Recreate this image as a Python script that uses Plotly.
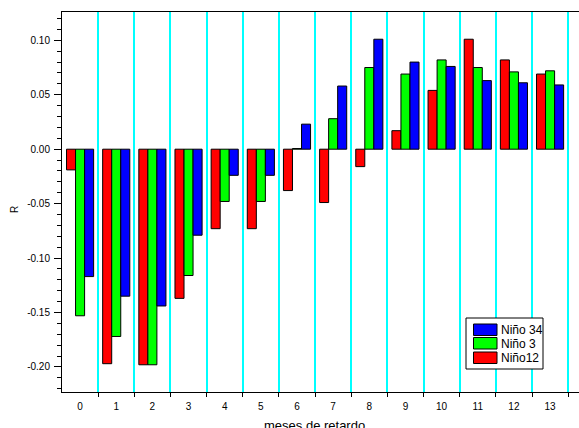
import plotly.graph_objects as go

lags = list(range(14))
lag_labels = [str(v) for v in lags]
nino12 = [-0.019, -0.197, -0.198, -0.137, -0.073, -0.073, -0.038, -0.049, -0.016, 0.017, 0.054, 0.101, 0.082, 0.069]
nino3 = [-0.153, -0.172, -0.198, -0.116, -0.048, -0.048, 0.0006, 0.028, 0.075, 0.069, 0.082, 0.075, 0.071, 0.072]
nino34 = [-0.117, -0.135, -0.144, -0.079, -0.024, -0.024, 0.023, 0.058, 0.101, 0.080, 0.076, 0.063, 0.061, 0.059]
series_names = ["Niño12", "Niño 3", "Niño 34"]
series_colors = ["#FF0000", "#00FF00", "#0000FF"]
ytick_vals = [-0.20, -0.15, -0.10, -0.05, 0.00, 0.05, 0.10]
ytick_text = ["-0.20", "-0.15", "-0.10", "-0.05", "0.00", "0.05", "0.10"]
sep_vals = [v + 0.5 for v in lags]

FONT = "Liberation Sans, Arial, sans-serif"
W, H = 579, 428
ML, MT, MB, MR = 62, 12, 36, 0
PW, PH = W - ML - MR, H - MT - MB


def px(x):
    return (x - ML) / PW


def py(y):
    return (H - MB - y) / PH


fig = go.Figure()
for name, vals, col in zip(series_names, [nino12, nino3, nino34], series_colors):
    fig.add_trace(go.Bar(x=lags, y=vals, name=name, showlegend=False,
                         marker=dict(color=col, line=dict(color="black", width=1))))

# custom legend (box, swatches, labels), top entry = last series
shapes = [dict(type="rect", xref="paper", yref="paper", x0=px(466), x1=px(543),
               y0=py(369), y1=py(318), line=dict(color="black", width=1),
               fillcolor="white", layer="above")]
annotations = []
row_tops = [324, 337.5, 352]
for i, (name, col) in enumerate(zip(series_names[::-1], series_colors[::-1])):
    t = row_tops[i]
    shapes.append(dict(type="rect", xref="paper", yref="paper", x0=px(473.5), x1=px(497),
                       y0=py(t + 11.5), y1=py(t), line=dict(color="black", width=1),
                       fillcolor=col, layer="above"))
    annotations.append(dict(text=name, xref="paper", yref="paper", x=px(499), y=py(t + 6),
                            xanchor="left", yanchor="middle", showarrow=False,
                            font=dict(size=12, color="black")))

annotations += [
    dict(text="R", xref="paper", yref="paper", x=px(14), y=py(210), textangle=-90,
         showarrow=False, xanchor="center", yanchor="middle", font=dict(size=10)),
    dict(text="meses de retardo", xref="paper", yref="paper", x=px(314), y=py(425),
         showarrow=False, xanchor="center", yanchor="middle", font=dict(size=13)),
]

fig.update_layout(
    template="none",
    width=W, height=H,
    margin=dict(l=ML, r=MR, t=MT, b=MB, pad=0),
    paper_bgcolor="white", plot_bgcolor="white",
    barmode="group", bargap=0.25, bargroupgap=0,
    font=dict(family=FONT, size=10, color="black"),
    showlegend=False,
    xaxis=dict(range=[-0.5, 13.8], tickmode="array", tickvals=lags, ticktext=lag_labels,
               ticks="", showgrid=False, zeroline=False, automargin=False,
               showline=True, linecolor="black", linewidth=1, mirror=True,
               ticklabelstandoff=5,
               minor=dict(tickmode="array", tickvals=sep_vals, ticks="outside", ticklen=4,
                          tickcolor="black", showgrid=True, gridcolor="#00FFFF", gridwidth=1.5),
               tickfont=dict(size=10)),
    yaxis=dict(range=[-0.223, 0.126], tickmode="array", tickvals=ytick_vals, ticktext=ytick_text,
               ticks="outside", ticklen=7, tickcolor="black", showgrid=False, zeroline=False,
               showline=True, linecolor="black", linewidth=1, automargin=False,
               ticklabelstandoff=2,
               minor=dict(dtick=0.01, tick0=0, ticks="outside", ticklen=4, tickcolor="black",
                          showgrid=False),
               tickfont=dict(size=10)),
    yaxis2=dict(range=[-0.223, 0.126], overlaying="y", side="right", tickmode="array",
                tickvals=ytick_vals, showticklabels=False, ticks="inside", ticklen=2,
                tickcolor="#999999", showgrid=False, zeroline=False, showline=False,
                automargin=False),
    shapes=shapes,
    annotations=annotations,
)

fig.write_html("out.html", config={"displayModeBar": False},
               post_script="document.body.style.margin='0px';document.body.style.padding='0px';")
